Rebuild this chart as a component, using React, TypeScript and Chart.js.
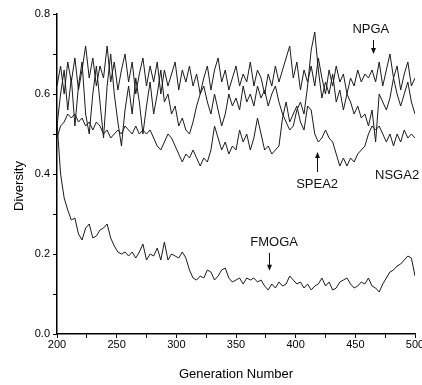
import React, { useEffect, useRef } from 'react';
import { Chart, registerables } from 'chart.js';

Chart.register(...registerables);

const GENERATIONS = [
  200, 203, 206, 209, 212, 215, 218, 221, 224, 227,
  230, 233, 236, 239, 242, 245, 248, 251, 254, 257,
  260, 263, 266, 269, 272, 275, 278, 281, 284, 287,
  290, 293, 296, 299, 302, 305, 308, 311, 314, 317,
  320, 323, 326, 329, 332, 335, 338, 341, 344, 347,
  350, 353, 356, 359, 362, 365, 368, 371, 374, 377,
  380, 383, 386, 389, 392, 395, 398, 401, 404, 407,
  410, 413, 416, 419, 422, 425, 428, 431, 434, 437,
  440, 443, 446, 449, 452, 455, 458, 461, 464, 467,
  470, 473, 476, 479, 482, 485, 488, 491, 494, 497,
  500,
];

const NPGA = [
  0.62, 0.67, 0.60, 0.68, 0.63, 0.69, 0.61, 0.66, 0.72, 0.64,
  0.69, 0.62, 0.67, 0.64, 0.72, 0.63, 0.68, 0.61, 0.66, 0.70,
  0.63, 0.68, 0.60, 0.65, 0.69, 0.62, 0.67, 0.63, 0.68, 0.60,
  0.66, 0.62, 0.65, 0.68, 0.61, 0.66, 0.63, 0.67, 0.62, 0.65,
  0.60, 0.64, 0.67, 0.61, 0.66, 0.69, 0.63, 0.66, 0.61, 0.64,
  0.67, 0.62, 0.65, 0.63, 0.68, 0.62, 0.66, 0.64, 0.60, 0.65,
  0.62, 0.67, 0.63, 0.66, 0.69, 0.72, 0.64, 0.68, 0.61, 0.66,
  0.63, 0.67, 0.62, 0.69, 0.64, 0.60, 0.66, 0.62, 0.67, 0.63,
  0.65, 0.60, 0.64, 0.62, 0.66, 0.63, 0.65, 0.64, 0.66, 0.63,
  0.68, 0.62, 0.66, 0.70, 0.64, 0.67, 0.61, 0.65, 0.68, 0.62,
  0.64,
];

const NSGA2 = [
  0.52, 0.60, 0.66, 0.56, 0.64, 0.52, 0.62, 0.68, 0.55, 0.50,
  0.60, 0.67, 0.58, 0.49, 0.62, 0.70, 0.60, 0.53, 0.47, 0.56,
  0.62, 0.55, 0.64, 0.58, 0.50, 0.57, 0.63, 0.55, 0.60, 0.66,
  0.58, 0.60, 0.55, 0.57, 0.52, 0.54, 0.51, 0.50, 0.53, 0.57,
  0.60, 0.62, 0.58, 0.55, 0.60, 0.56, 0.52, 0.55, 0.60, 0.57,
  0.59, 0.56, 0.62, 0.58, 0.60, 0.57, 0.62, 0.59, 0.61, 0.57,
  0.60, 0.62, 0.58, 0.55, 0.53, 0.51, 0.52, 0.56, 0.58, 0.55,
  0.62, 0.71, 0.755, 0.66, 0.59, 0.63, 0.60, 0.65, 0.58, 0.61,
  0.56, 0.60, 0.58, 0.55, 0.57, 0.54, 0.55, 0.52, 0.56, 0.48,
  0.60, 0.58, 0.56, 0.59, 0.64, 0.60, 0.57, 0.60, 0.63, 0.58,
  0.55,
];

const SPEA2 = [
  0.49, 0.52, 0.53, 0.55, 0.54, 0.55, 0.53, 0.54, 0.52, 0.53,
  0.51, 0.53, 0.52, 0.50, 0.51, 0.49, 0.50, 0.51, 0.50, 0.52,
  0.51, 0.50, 0.52, 0.50, 0.51, 0.50, 0.51, 0.49, 0.47, 0.46,
  0.48, 0.50, 0.49, 0.47, 0.45, 0.43, 0.45, 0.44, 0.46, 0.44,
  0.42, 0.44, 0.43, 0.46, 0.52, 0.49, 0.46, 0.48, 0.45, 0.47,
  0.46, 0.51, 0.48, 0.50, 0.46, 0.49, 0.54, 0.50, 0.46, 0.47,
  0.45, 0.46, 0.47, 0.54, 0.58, 0.53, 0.55, 0.57, 0.53, 0.51,
  0.57, 0.56, 0.50, 0.48, 0.49, 0.51, 0.49, 0.48, 0.45, 0.42,
  0.44, 0.42, 0.44, 0.43, 0.45, 0.46, 0.47, 0.50, 0.52, 0.51,
  0.52, 0.50, 0.48, 0.50, 0.47, 0.50, 0.48, 0.51, 0.49, 0.50,
  0.49,
];

const FMOGA = [
  0.53, 0.40, 0.34, 0.31, 0.285, 0.29, 0.25, 0.235, 0.265, 0.275,
  0.24, 0.245, 0.26, 0.265, 0.275, 0.24, 0.22, 0.205, 0.20, 0.205,
  0.195, 0.205, 0.19, 0.205, 0.225, 0.185, 0.20, 0.195, 0.215, 0.185,
  0.23, 0.185, 0.20, 0.195, 0.19, 0.205, 0.19, 0.16, 0.14, 0.135,
  0.145, 0.14, 0.16, 0.155, 0.135, 0.145, 0.16, 0.165, 0.14, 0.13,
  0.135, 0.14, 0.125, 0.14, 0.135, 0.14, 0.13, 0.135, 0.12, 0.11,
  0.125, 0.115, 0.13, 0.12, 0.125, 0.145, 0.135, 0.125, 0.13, 0.115,
  0.125, 0.11, 0.12, 0.125, 0.14, 0.12, 0.13, 0.11, 0.115, 0.13,
  0.135, 0.14, 0.125, 0.115, 0.12, 0.13, 0.125, 0.14, 0.12, 0.115,
  0.105, 0.125, 0.14, 0.155, 0.16, 0.17, 0.175, 0.185, 0.195, 0.19,
  0.145,
];

const X_TICK_LABELS = ['200', '250', '300', '350', '400', '450', '500'];
const Y_TICK_LABELS = ['0.0', '0.2', '0.4', '0.6', '0.8'];

const FONT = '"Liberation Sans", Arial, Helvetica, sans-serif';

export default function App() {
  const ref = useRef<HTMLCanvasElement>(null);

  useEffect(() => {
    if (!ref.current) return;
    const mk = (vals: number[]) => GENERATIONS.map((g, i) => ({ x: g, y: vals[i] }));
    const ds = (label: string, vals: number[]) => ({
      label,
      data: mk(vals),
      borderColor: '#1a1a1a',
      borderWidth: 1,
      pointRadius: 0,
      fill: false,
      tension: 0,
    });

    const annotations = {
      id: 'annotations',
      afterDraw(chart: any) {
        const { ctx } = chart;
        const xs = chart.scales.x;
        const ys = chart.scales.y;
        const px = (g: number) => xs.getPixelForValue(g);
        const py = (v: number) => ys.getPixelForValue(v);
        ctx.save();
        ctx.fillStyle = '#111';
        ctx.strokeStyle = '#111';
        ctx.font = `13px ${FONT}`;
        ctx.textAlign = 'center';
        ctx.textBaseline = 'middle';
        const label = (t: string, g: number, v: number) => ctx.fillText(t, px(g), py(v));
        const arrow = (g: number, v1: number, v2: number) => {
          const x = Math.round(px(g)) + 0.5;
          const y1 = py(v1);
          const y2 = py(v2);
          const dir = y2 > y1 ? 1 : -1;
          ctx.lineWidth = 1;
          ctx.beginPath();
          ctx.moveTo(x, y1);
          ctx.lineTo(x, y2 - dir * 3);
          ctx.stroke();
          ctx.beginPath();
          ctx.moveTo(x, y2);
          ctx.lineTo(x - 2.5, y2 - dir * 6);
          ctx.lineTo(x + 2.5, y2 - dir * 6);
          ctx.closePath();
          ctx.fill();
        };
        label('NPGA', 463, 0.7625);
        arrow(465, 0.735, 0.70);
        label('SPEA2', 418, 0.375);
        arrow(418, 0.405, 0.455);
        label('NSGA2', 485, 0.3975);
        label('FMOGA', 382, 0.23);
        arrow(378, 0.2025, 0.158);

        // axis titles
        ctx.font = `13px ${FONT}`;
        ctx.fillStyle = '#000';
        ctx.fillText('Generation Number', px(350), 374);
        ctx.save();
        ctx.translate(19, py(0.37));
        ctx.rotate(-Math.PI / 2);
        ctx.fillText('Diversity', 0, 0);
        ctx.restore();
        ctx.restore();
      },
    };

    const chart = new Chart(ref.current, {
      type: 'line',
      data: {
        datasets: [ds('NPGA', NPGA), ds('NSGA2', NSGA2), ds('SPEA2', SPEA2), ds('FMOGA', FMOGA)],
      },
      options: {
        animation: false,
        responsive: false,
        maintainAspectRatio: false,
        layout: { padding: { left: 0, right: 7, top: 14, bottom: 0 } },
        plugins: { legend: { display: false }, tooltip: { enabled: false } },
        scales: {
          x: {
            type: 'linear',
            min: 200,
            max: 500,
            ticks: {
              stepSize: 25,
              autoSkip: false,
              maxRotation: 0,
              padding: 0,
              color: '#000',
              font: { family: FONT, size: 11 },
              callback: (v: any) => (X_TICK_LABELS.includes(String(v)) ? String(v) : ''),
            },
            grid: { drawOnChartArea: false, drawTicks: true, tickLength: 4, color: '#000', lineWidth: 1 },
            border: { display: true, color: '#000', width: 1.5 },
            afterFit: (s: any) => {
              s.height = 51;
              s.paddingLeft = 0;
              s.paddingRight = 0;
            },
          },
          y: {
            type: 'linear',
            min: 0,
            max: 0.8,
            ticks: {
              stepSize: 0.1,
              autoSkip: false,
              padding: 3,
              color: '#000',
              font: { family: FONT, size: 11 },
              callback: (v: any) => {
                const t = Number(v).toFixed(1);
                return Y_TICK_LABELS.includes(t) ? t : '';
              },
            },
            grid: { drawOnChartArea: false, drawTicks: true, tickLength: 4, color: '#000', lineWidth: 1 },
            border: { display: true, color: '#000', width: 1.5 },
            afterFit: (s: any) => {
              s.width = 57;
              s.paddingTop = 0;
              s.paddingBottom = 0;
            },
          },
        },
      } as any,
      plugins: [annotations],
    });
    return () => chart.destroy();
  }, []);

  return (
    <div style={{ position: 'fixed', left: 0, top: 0, width: 422, height: 385, background: '#fff' }}>
      <canvas ref={ref} width={422} height={385} style={{ display: 'block' }} />
    </div>
  );
}
